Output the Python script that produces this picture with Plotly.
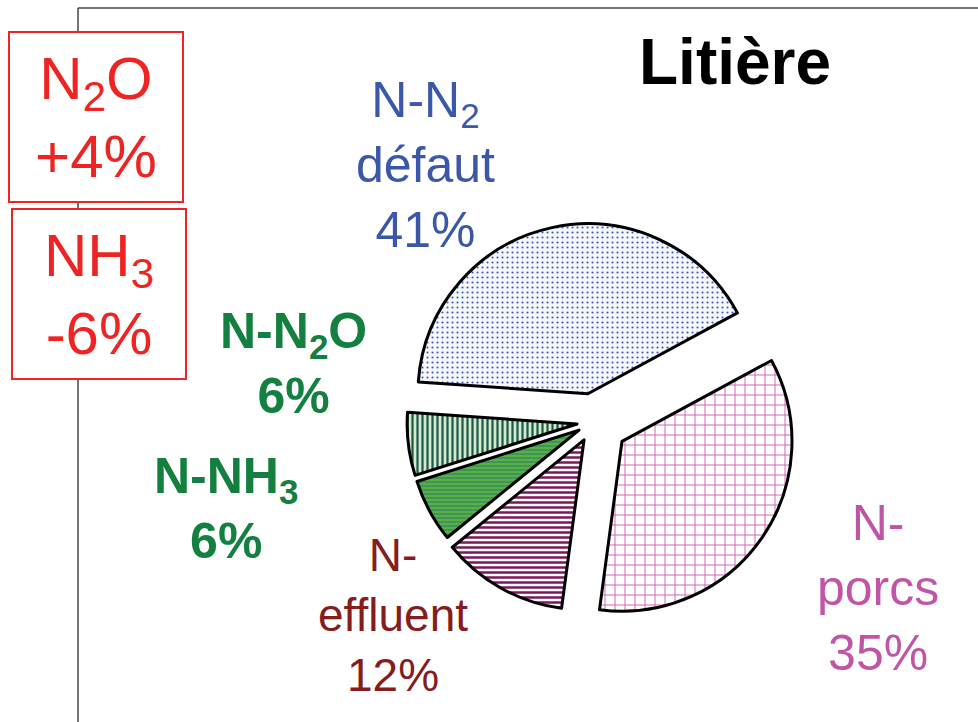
import plotly.graph_objects as go

labels = ["N-N2 défaut", "N-porcs", "N-effluent", "N-NH3", "N-N2O"]
values = [41, 35, 12, 6, 6]
pulls = [0.17, 0.2, 0.12, 0.1, 0.1]

fill_colors = ["#f6f7fc", "#ffffff", "#ffffff", "#5cb043", "#d6ebcd"]
pattern_shapes = [".", "+", "-", "-", "|"]
pattern_fg = ["#3a5cb8", "#d060b4", "#7a1858", "#2f8a62", "#1c5a4c"]
pattern_size = [5, 10, 5, 4, 5]
pattern_solidity = [0.14, 0.18, 0.5, 0.35, 0.45]

# label texts: (text, colour, size, bold, x px, y px)
slice_labels = [
    ("N-N<sub>2</sub><br>défaut<br>41%", "#3b57a8", 50, False, 425, 165),
    ("N-<br>porcs<br>35%", "#c055a6", 50, False, 878, 588),
    ("N-<br>effluent<br>12%", "#861c1c", 46, False, 393, 615),
    ("N-NH<sub>3</sub><br>6%", "#138040", 50, True, 226, 508),
    ("N-N<sub>2</sub>O<br>6%", "#138040", 50, True, 293, 364),
]
box_labels = [("N<sub>2</sub>O<br>+4%", 96, 117), ("NH<sub>3</sub><br>-6%", 99, 294)]

W, H = 978, 722

fig = go.Figure()
fig.add_trace(
    go.Pie(
        labels=labels,
        values=values,
        pull=pulls,
        sort=False,
        direction="clockwise",
        rotation=-86,
        textinfo="none",
        hoverinfo="label+percent",
        showlegend=False,
        domain=dict(x=[390 / W, 798 / W], y=[1 - 626 / H, 1 - 218 / H]),
        marker=dict(
            colors=fill_colors,
            line=dict(color="black", width=3),
            pattern=dict(
                shape=pattern_shapes,
                fgcolor=pattern_fg,
                bgcolor=fill_colors,
                size=pattern_size,
                solidity=pattern_solidity,
                fillmode="replace",
            ),
        ),
    )
)

annotations = []
for text, color, size, bold, x, y in slice_labels:
    annotations.append(dict(
        text=f"<b>{text}</b>" if bold else text,
        x=x / W, y=1 - y / H, xref="paper", yref="paper",
        xanchor="center", yanchor="middle",
        showarrow=False, align="center",
        font=dict(family="Liberation Sans, Arial", size=size, color=color),
    ))
for text, x, y in box_labels:
    annotations.append(dict(
        text=text, x=x / W, y=1 - y / H, xref="paper", yref="paper",
        xanchor="center", yanchor="middle",
        showarrow=False, align="center", width=170, height=166,
        bordercolor="#ee2424", borderwidth=2, bgcolor="white",
        font=dict(family="Liberation Sans, Arial", size=60, color="#ee2424"),
    ))
annotations.append(dict(
    text="<b>Litière</b>", x=735 / W, y=1 - 62 / H, xref="paper", yref="paper",
    xanchor="center", yanchor="middle", showarrow=False,
    font=dict(family="Liberation Sans, Arial", size=64, color="black"),
))

fig.update_layout(
    width=W, height=H,
    margin=dict(l=0, r=0, t=0, b=0),
    paper_bgcolor="white", plot_bgcolor="white",
    annotations=annotations,
    shapes=[
        dict(type="line", xref="paper", yref="paper", x0=78 / W, x1=78 / W, y0=0, y1=1 - 8 / H,
             line=dict(color="#444444", width=1.5), layer="below"),
        dict(type="line", xref="paper", yref="paper", x0=78 / W, x1=1, y0=1 - 8 / H, y1=1 - 8 / H,
             line=dict(color="#444444", width=1.5), layer="below"),
    ],
)

fig.write_html("out.html", config={"displayModeBar": False},
               post_script="document.body.style.margin='0';")
